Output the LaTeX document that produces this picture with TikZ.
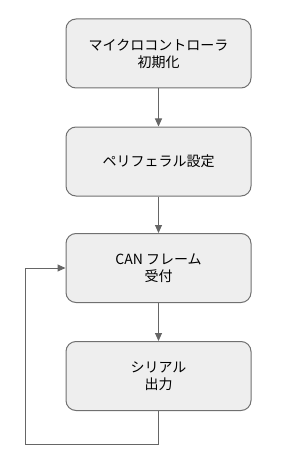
\documentclass[tikz,border=0pt]{standalone}
\usepackage{fontspec}
\setmainfont{Noto Sans CJK JP}
\usetikzlibrary{arrows.meta}
\definecolor{boxfill}{HTML}{EEEEEE}
\definecolor{boxline}{HTML}{707070}
\definecolor{arr}{HTML}{666666}
\tikzset{
  stepbox/.style={draw=boxline, fill=boxfill, rounded corners=10pt, line width=1pt,
    minimum width=185pt, minimum height=69pt, align=center, inner sep=0pt,
    font=\fontsize{14pt}{17pt}\selectfont},
  flow/.style={draw=arr, line width=1pt, -{Triangle[length=8pt,width=7pt]}}
}
\begin{document}
\begin{tikzpicture}[x=1pt,y=-1pt]
\useasboundingbox (0,0) rectangle (300,476);
\node[stepbox] (a) at (158.5,53.5) {マイクロコントローラ\\初期化};
\node[stepbox] (b) at (158.5,161.5) {ペリフェラル設定};
\node[stepbox] (c) at (158.5,268) {CAN フレーム\\受付};
\node[stepbox] (d) at (158.5,376) {シリアル\\出力};
\coordinate (l1) at (158.5,444);
\coordinate (l2) at (25,444);
\coordinate (l3) at (25,268);
\draw[flow] (a) -- (b);
\draw[flow] (b) -- (c);
\draw[flow] (c) -- (d);
\draw[flow] (d.south) -- (l1) -- (l2) -- (l3) -- (c.west);
\end{tikzpicture}
\end{document}
